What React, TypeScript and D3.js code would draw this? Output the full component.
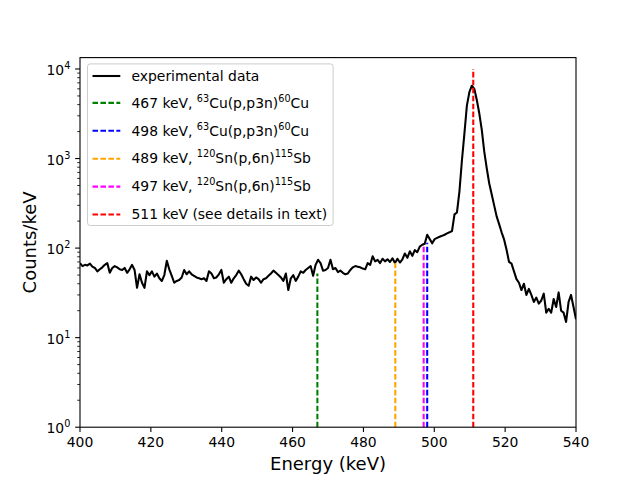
import { useEffect, useRef } from 'react'
import * as d3 from 'd3'

// channel calibration: first channel energy and bin width (keV)
const startKeV = 400
const binKeV = 0.7

// counts per keV, one value per channel
const counts = [
  68, 63, 65, 64, 67, 62, 60, 55, 58, 61,
  65, 68, 53, 60, 63, 61, 58, 57, 60, 53,
  58, 65, 57, 36, 51, 41, 36, 55, 50, 55,
  48, 52, 46, 43, 50, 72, 58, 49, 41, 43,
  44, 47, 57, 51, 55, 51, 49, 47, 46, 45,
  46, 43, 55, 52, 46, 47, 51, 57, 41, 45,
  48, 41, 46, 50, 56, 51, 45, 40, 38, 48,
  44, 47, 45, 41, 45, 46, 49, 52, 56, 53,
  50, 47, 43, 52, 34, 46, 50, 43, 48, 55,
  53, 57, 60, 63, 49, 65, 74, 68, 56, 57,
  60, 74, 58, 60, 54, 56, 53, 51, 52, 57,
  61, 63, 62, 61, 59, 58, 68, 65, 81, 71,
  74, 68, 76, 71, 75, 70, 77, 68, 76, 69,
  75, 87, 78, 92, 82, 95, 90, 104, 109, 112,
  141, 126, 113, 126, 130, 134, 137, 141, 146, 150,
  155, 238, 250, 430, 950, 1900, 3900, 5500, 6500, 6000,
  4500, 3200, 2100, 1200, 780, 530, 400, 300, 226, 185,
  150, 125, 96, 70, 67, 55, 45, 41, 34, 40,
  30, 35, 30, 25, 28, 24, 26, 31, 19, 21,
  19, 27, 22, 32, 20, 19, 15, 25, 30, 22,
  16,
]

// gamma lines marked in the plot
const lineEnergies = [467, 498, 489, 497, 511]
const lineTops = [52, 115, 68, 107, 10000]
const lineColors = ['#008000', '#0000ff', '#ffa500', '#ff00ff', '#ff0000']
const legendLabels = [
  'experimental data',
  '467 keV, ^{63}Cu(p,p3n)^{60}Cu',
  '498 keV, ^{63}Cu(p,p3n)^{60}Cu',
  '489 keV, ^{120}Sn(p,6n)^{115}Sb',
  '497 keV, ^{120}Sn(p,6n)^{115}Sb',
  '511 keV (see details in text)',
]

const xTicks = [400, 420, 440, 460, 480, 500, 520, 540]
const yTicks = [1, 10, 100, 1000, 10000]
const yExponents = ['0', '1', '2', '3', '4']

const FONT = 'DejaVu Sans, sans-serif'

// split "a^{b}c" into plain / superscript pieces
function parts(label: string) {
  const out: { t: string; sup: boolean }[] = []
  const re = /\^\{([^}]*)\}/g
  let last = 0
  let m
  while ((m = re.exec(label)) !== null) {
    if (m.index > last) out.push({ t: label.slice(last, m.index), sup: false })
    out.push({ t: m[1], sup: true })
    last = m.index + m[0].length
  }
  if (last < label.length) out.push({ t: label.slice(last), sup: false })
  return out
}

function writeRich(sel: d3.Selection<SVGTextElement, unknown, null, undefined>, label: string, supSize: number, shift: number) {
  let up = false
  parts(label).forEach(p => {
    const ts = sel.append('tspan').text(p.t)
    if (p.sup && !up) { ts.attr('dy', -shift).attr('font-size', supSize); up = true }
    else if (p.sup) ts.attr('font-size', supSize)
    else if (up) { ts.attr('dy', shift); up = false }
  })
}

function Spectrum() {
  const svgRef = useRef<SVGSVGElement>(null)

  useEffect(() => {
    if (!svgRef.current) return
    const width = 640
    const height = 480
    const m = { top: 57.6, right: 64, bottom: 52.8, left: 80 }
    const iW = width - m.left - m.right
    const iH = height - m.top - m.bottom

    const svg = d3.select(svgRef.current)
    svg.selectAll('*').remove()
    svg.attr('width', width).attr('height', height)
    svg.append('rect').attr('width', width).attr('height', height).attr('fill', '#fff')

    const g = svg.append('g').attr('transform', `translate(${m.left},${m.top})`)

    const x = d3.scaleLinear().domain([400, 540]).range([0, iW])
    const y = d3.scaleLog().domain([1, 13400]).range([iH, 0])

    g.append('clipPath').attr('id', 'plot-clip').append('rect').attr('width', iW).attr('height', iH)

    const pts = counts.map((c, i) => ({ e: startKeV + i * binKeV, c }))
    g.append('path')
      .datum(pts)
      .attr('clip-path', 'url(#plot-clip)')
      .attr('fill', 'none').attr('stroke', '#000').attr('stroke-width', 2.08).attr('stroke-linejoin', 'round')
      .attr('d', d3.line<{ e: number; c: number }>().x(d => x(d.e)).y(d => y(d.c)))

    // marked lines
    lineEnergies.forEach((e, i) => {
      g.append('line')
        .attr('x1', x(e)).attr('x2', x(e)).attr('y1', iH).attr('y2', y(lineTops[i]))
        .attr('stroke', lineColors[i]).attr('stroke-width', 2.08).attr('stroke-dasharray', '5.55,2.4')
    })

    // minor log ticks
    const minors: number[] = []
    for (let k = 0; k < 5; k++) for (let j = 2; j <= 9; j++) if (j * 10 ** k <= 13400) minors.push(j * 10 ** k)
    g.append('g').selectAll('line').data(minors).enter().append('line')
      .attr('x1', -2.78).attr('x2', 0).attr('y1', d => y(d)).attr('y2', d => y(d))
      .attr('stroke', '#000').attr('stroke-width', 0.83)

    // major ticks
    g.append('g').selectAll('line').data(yTicks).enter().append('line')
      .attr('x1', -4.86).attr('x2', 0).attr('y1', d => y(d)).attr('y2', d => y(d))
      .attr('stroke', '#000').attr('stroke-width', 1.1)
    g.append('g').selectAll('line').data(xTicks).enter().append('line')
      .attr('x1', d => x(d)).attr('x2', d => x(d)).attr('y1', iH).attr('y2', iH + 4.86)
      .attr('stroke', '#000').attr('stroke-width', 1.1)

    // tick labels
    g.append('g').selectAll('text').data(xTicks).enter().append('text')
      .attr('x', d => x(d)).attr('y', iH + 19.8).attr('text-anchor', 'middle')
      .attr('font-family', FONT).attr('font-size', 13.9).attr('fill', '#000').text(d => `${d}`)
    yTicks.forEach((v, i) => {
      const t = g.append('text').attr('x', -9.7).attr('y', y(v) + 6.3).attr('text-anchor', 'end')
        .attr('font-family', FONT).attr('font-size', 13.9).attr('fill', '#000')
      writeRich(t, `10^{${yExponents[i]}}`, 9.7, 6)
    })

    // frame
    g.append('rect').attr('width', iW).attr('height', iH).attr('fill', 'none').attr('stroke', '#000').attr('stroke-width', 1.1)

    // axis labels
    g.append('text').attr('x', iW / 2).attr('y', iH + 42.5).attr('text-anchor', 'middle')
      .attr('font-family', FONT).attr('font-size', 18).attr('fill', '#000').text('Energy (keV)')
    g.append('text').attr('transform', 'rotate(-90)').attr('x', -iH / 2).attr('y', -44)
      .attr('text-anchor', 'middle').attr('font-family', FONT).attr('font-size', 18).attr('fill', '#000').text('Counts/keV')

    // legend
    const lg = g.append('g').attr('transform', 'translate(7.5,6.3)')
    lg.append('rect').attr('width', 245.6).attr('height', 161.6).attr('rx', 2.8)
      .attr('fill', '#fff').attr('fill-opacity', 0.8).attr('stroke', '#cccccc').attr('stroke-width', 1)
    const legendColors = ['#000', ...lineColors]
    legendLabels.forEach((lab, i) => {
      const cy = i === 0 ? 12.1 : 39 + (i - 1) * 27.9
      lg.append('line').attr('x1', 5).attr('x2', 32.8).attr('y1', cy).attr('y2', cy)
        .attr('stroke', legendColors[i]).attr('stroke-width', 2.08)
        .attr('stroke-dasharray', i === 0 ? null : '5.55,2.4')
      const t = lg.append('text').attr('x', 44).attr('y', cy + 4.8)
        .attr('font-family', FONT).attr('font-size', 13.9).attr('fill', '#000')
      writeRich(t, lab, 9.7, 6)
    })
  }, [])

  return <svg ref={svgRef} style={{ display: 'block' }} />
}

export default function App() {
  useEffect(() => { document.body.style.margin = '0' }, [])
  return <Spectrum />
}
